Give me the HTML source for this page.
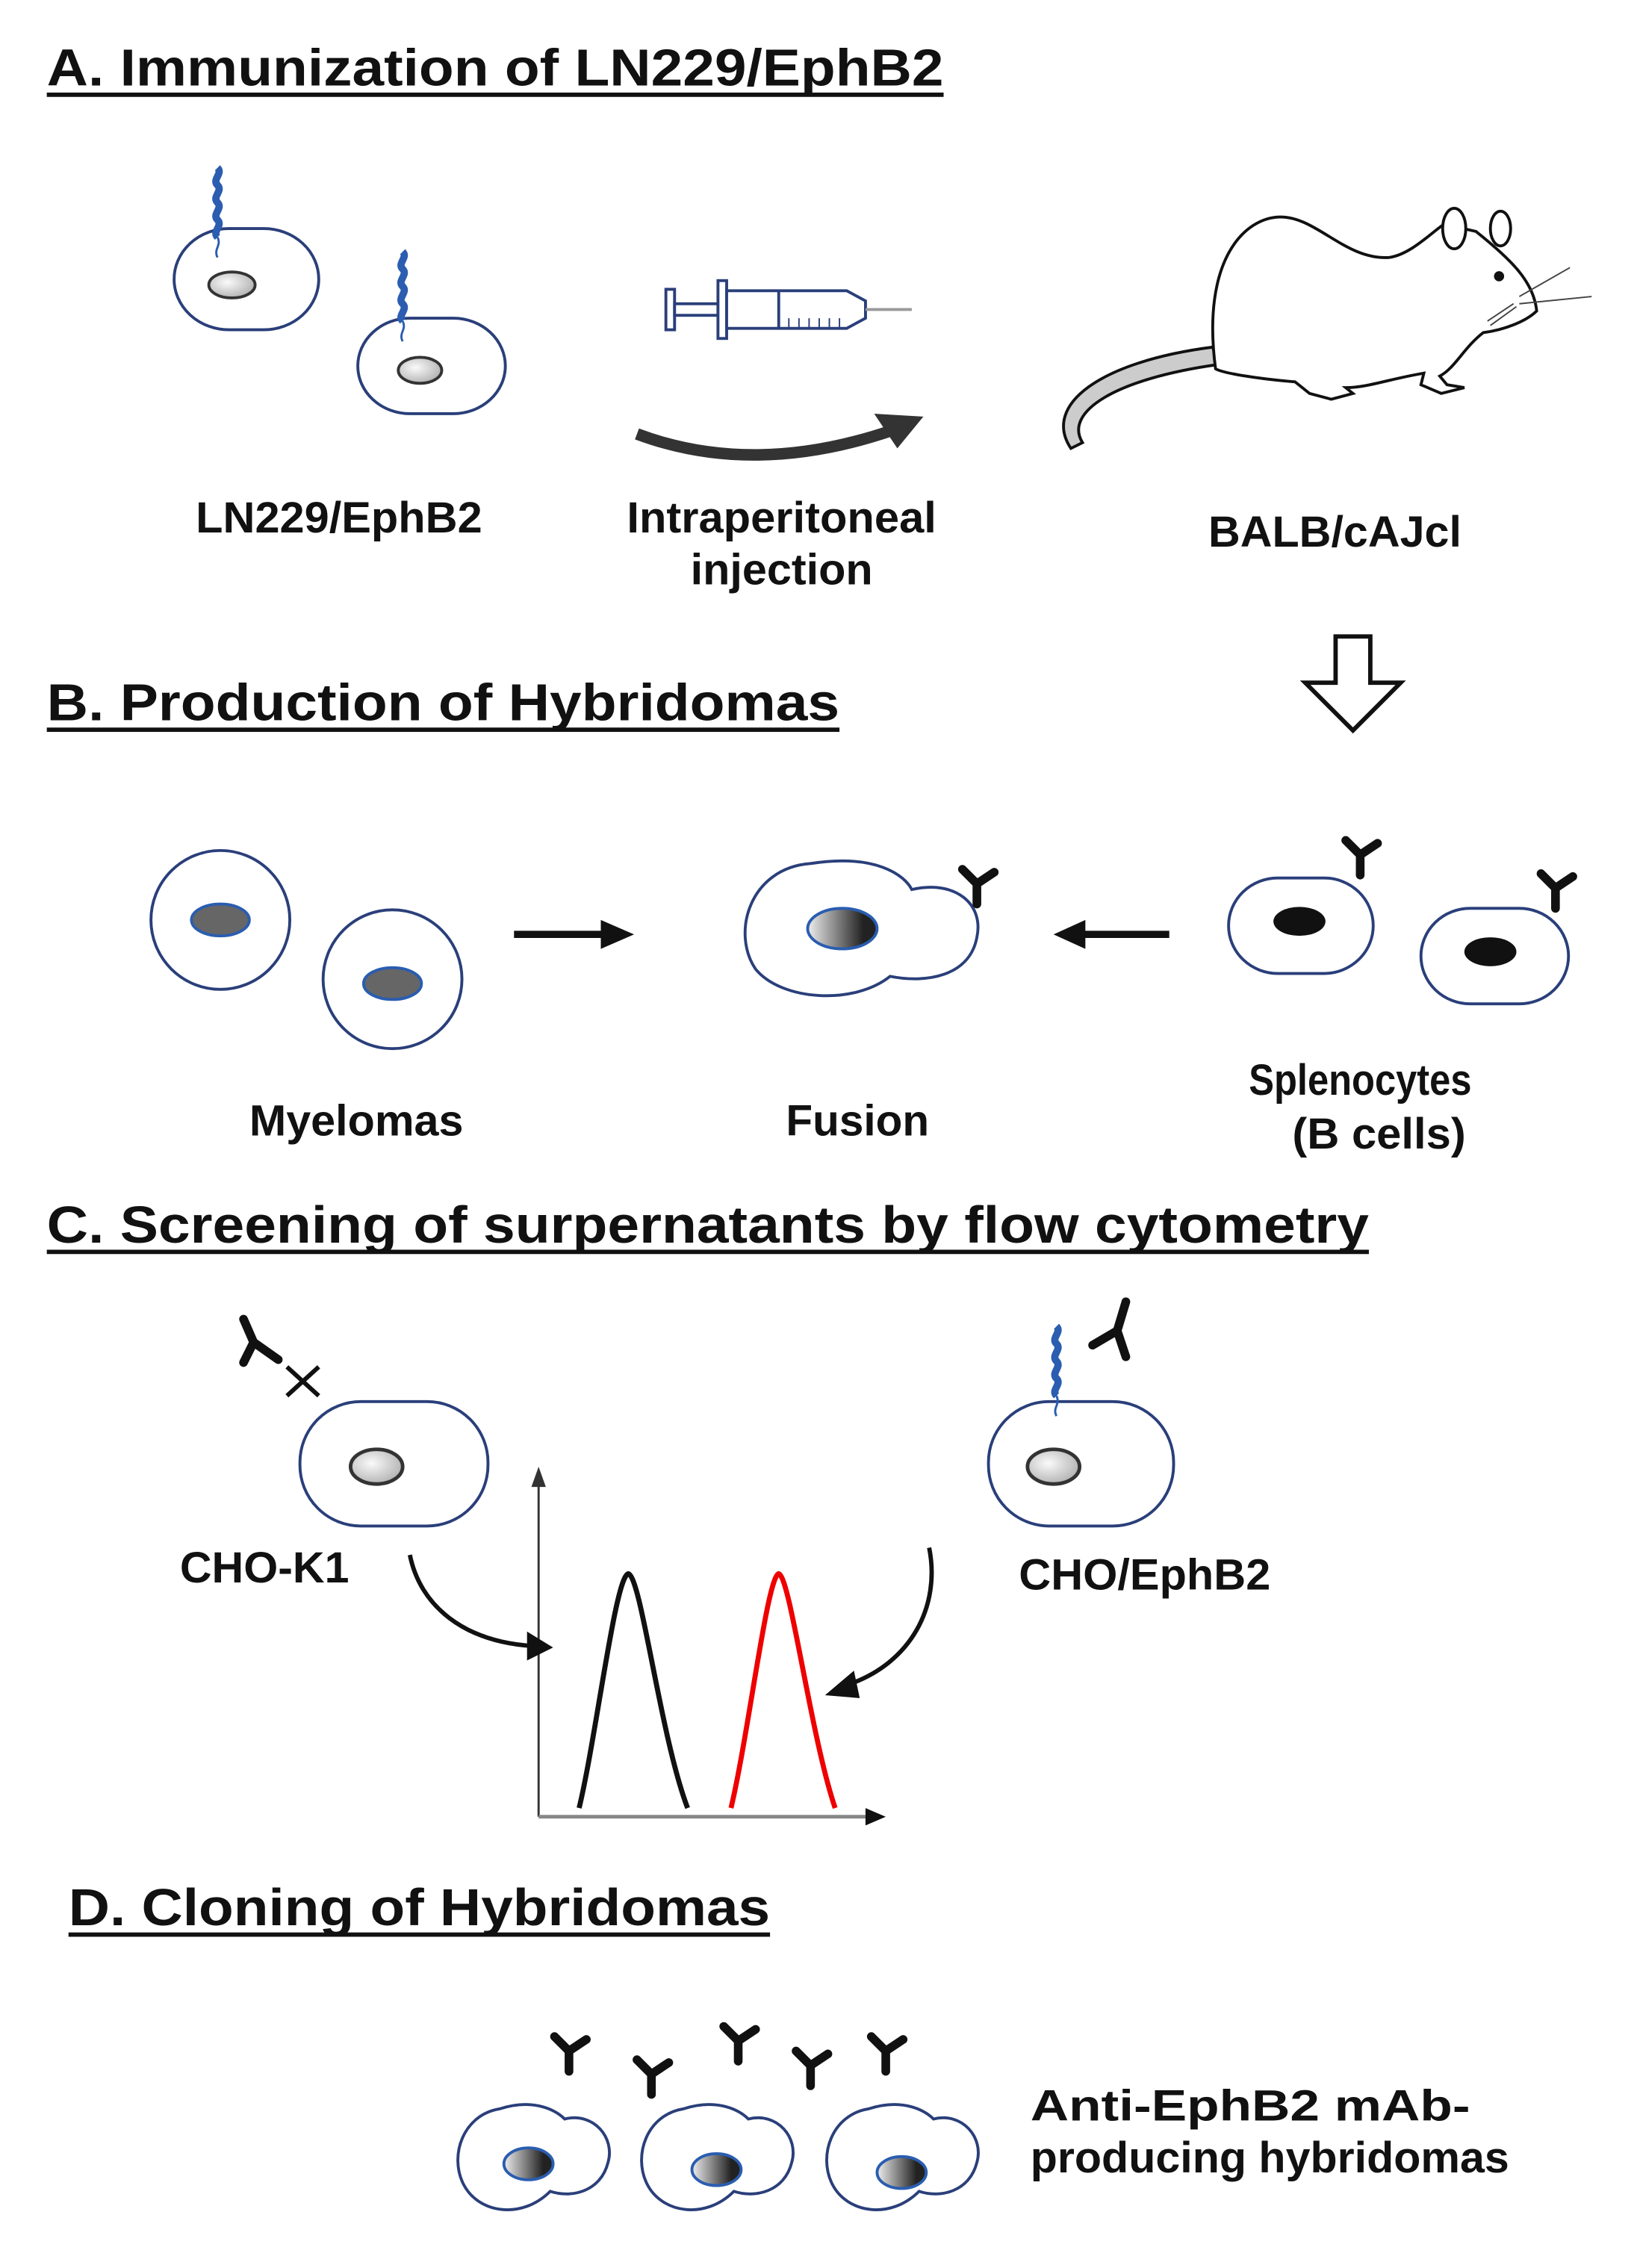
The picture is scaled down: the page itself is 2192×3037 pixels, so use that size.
<!DOCTYPE html>
<html><head><meta charset="utf-8"><style>
html,body{margin:0;padding:0;background:#fff;}
svg{display:block;}
text{font-family:"Liberation Sans",Arial,sans-serif;font-weight:bold;fill:#111;}
</style></head><body>
<svg width="2192" height="3037" viewBox="0 0 1131 1568" xmlns="http://www.w3.org/2000/svg">
<defs>
<radialGradient id="gn" cx="0.4" cy="0.4" r="0.7"><stop offset="0" stop-color="#fafafa"/><stop offset="1" stop-color="#aaa"/></radialGradient>
<linearGradient id="gh" x1="0" x2="1"><stop offset="0" stop-color="#eee"/><stop offset="0.8" stop-color="#222"/></linearGradient>
<g id="ab"><path d="M0 0 L0 -14 M0 -14 L-10 -24 M0 -14 L12 -22" stroke="#111" stroke-width="6" fill="none" stroke-linecap="round"/></g>
<g id="rec"><path d="M0 0 C-4 -4 4 -8 0 -12 C-4 -16 4 -20 0 -24 C-4 -28 4 -32 0 -36 C-4 -40 4 -44 0 -48" stroke="#2b5db0" stroke-width="5" fill="none"/><path d="M0 0 C3 6 -3 8 0 14" stroke="#2b5db0" stroke-width="1.5" fill="none"/></g>
</defs>
<!-- A -->
<text x="32" y="59" font-size="36" textLength="620" lengthAdjust="spacingAndGlyphs">A. Immunization of LN229/EphB2</text>
<rect x="32" y="64" width="620" height="3" fill="#111"/>
<rect x="120" y="158" width="100" height="70" rx="38" fill="#fff" stroke="#2a3f7a" stroke-width="2"/>
<ellipse cx="160" cy="197" rx="16" ry="9" fill="url(#gn)" stroke="#333" stroke-width="2"/>
<use href="#rec" x="150" y="164"/>
<rect x="247" y="220" width="102" height="66" rx="36" fill="#fff" stroke="#2a3f7a" stroke-width="2"/>
<ellipse cx="290" cy="256" rx="15" ry="9" fill="url(#gn)" stroke="#333" stroke-width="2"/>
<use href="#rec" x="278" y="222"/>
<g stroke="#2a3f7a" stroke-width="2" fill="#fff">
<rect x="460" y="200" width="6" height="28"/><rect x="466" y="210" width="30" height="8"/>
<rect x="496" y="194" width="6" height="40"/>
<path d="M502 201 H585 L598 208 V220 L585 227 H502 Z"/>
<line x1="538" y1="201" x2="538" y2="227"/>
<line x1="598" y1="214" x2="630" y2="214" stroke="#999"/>
</g>
<g stroke="#2a3f7a" stroke-width="1">
<line x1="545" y1="220" x2="545" y2="227"/><line x1="552" y1="220" x2="552" y2="227"/><line x1="559" y1="220" x2="559" y2="227"/><line x1="566" y1="220" x2="566" y2="227"/><line x1="573" y1="220" x2="573" y2="227"/><line x1="580" y1="220" x2="580" y2="227"/>
</g>
<path d="M440 300 Q520 330 615 298" stroke="#333" stroke-width="8" fill="none"/>
<path d="M604 286 L638 288 L620 310 Z" fill="#333"/>
<g fill="#fff" stroke="#111" stroke-width="2">
<path d="M838 240 C760 250 720 280 740 310 L748 306 C735 285 770 262 842 252 Z" fill="#ccc"/>
<path d="M840 255 C830 180 860 150 885 150 C910 150 930 180 960 178 C975 176 990 160 998 155 L1020 160 C1045 180 1060 195 1062 215 C1055 222 1040 228 1025 230 C1012 240 1005 255 995 260 L1000 266 L1012 268 L996 272 L982 266 L984 258 C960 262 945 268 930 268 L935 272 L920 276 L905 272 L895 264 C870 262 845 258 840 255 Z"/>
<ellipse cx="1005" cy="158" rx="8" ry="14"/><ellipse cx="1037" cy="158" rx="7" ry="12"/>
</g>
<circle cx="1036" cy="191" r="3.5" fill="#111"/>
<g stroke="#444" stroke-width="1" fill="none">
<path d="M1050 205 L1085 185"/><path d="M1050 210 L1100 205"/><path d="M1048 212 L1030 225"/><path d="M1046 210 L1028 222"/>
</g>
<text x="135" y="368" font-size="30" textLength="198" lengthAdjust="spacingAndGlyphs">LN229/EphB2</text>
<text x="433" y="368" font-size="30" textLength="214" lengthAdjust="spacingAndGlyphs">Intraperitoneal</text>
<text x="477" y="404" font-size="30" textLength="126" lengthAdjust="spacingAndGlyphs">injection</text>
<text x="835" y="378" font-size="30" textLength="175" lengthAdjust="spacingAndGlyphs">BALB/cAJcl</text>
<path d="M923 440 H947 V472 H968 L935 505 L902 472 H923 Z" fill="#fff" stroke="#111" stroke-width="3"/>
<!-- B -->
<text x="32" y="498" font-size="36" textLength="548" lengthAdjust="spacingAndGlyphs">B. Production of Hybridomas</text>
<rect x="32" y="503" width="548" height="3" fill="#111"/>
<circle cx="152" cy="636" r="48" fill="#fff" stroke="#2a3f7a" stroke-width="2"/>
<ellipse cx="152" cy="636" rx="20" ry="11" fill="#666" stroke="#2a5db0" stroke-width="2"/>
<circle cx="271" cy="677" r="48" fill="#fff" stroke="#2a3f7a" stroke-width="2"/>
<ellipse cx="271" cy="680" rx="20" ry="11" fill="#666" stroke="#2a5db0" stroke-width="2"/>
<line x1="355" y1="646" x2="420" y2="646" stroke="#111" stroke-width="5"/><path d="M415 636 L438 646 L415 656 Z" fill="#111"/>
<path d="M560 597 C605 590 625 605 630 615 C660 608 680 625 675 648 C670 675 640 680 615 675 C590 695 540 692 522 670 C505 645 518 600 560 597 Z" fill="#fff" stroke="#2a3f7a" stroke-width="2"/>
<ellipse cx="582" cy="642" rx="24" ry="14" fill="url(#gh)" stroke="#2a5db0" stroke-width="2"/>
<use href="#ab" x="675" y="625"/>
<line x1="745" y1="646" x2="808" y2="646" stroke="#111" stroke-width="5"/><path d="M750 636 L728 646 L750 656 Z" fill="#111"/>
<rect x="849" y="607" width="100" height="66" rx="34" fill="#fff" stroke="#2a3f7a" stroke-width="2"/>
<ellipse cx="898" cy="637" rx="18" ry="10" fill="#111"/>
<use href="#ab" x="940" y="605"/>
<rect x="982" y="628" width="102" height="66" rx="34" fill="#fff" stroke="#2a3f7a" stroke-width="2"/>
<ellipse cx="1030" cy="658" rx="18" ry="10" fill="#111"/>
<use href="#ab" x="1075" y="628"/>
<text x="172" y="785" font-size="30" textLength="148" lengthAdjust="spacingAndGlyphs">Myelomas</text>
<text x="543" y="785" font-size="30" textLength="99" lengthAdjust="spacingAndGlyphs">Fusion</text>
<text x="863" y="757" font-size="30" textLength="154" lengthAdjust="spacingAndGlyphs">Splenocytes</text>
<text x="893" y="794" font-size="30" textLength="120" lengthAdjust="spacingAndGlyphs">(B cells)</text>
<!-- C -->
<text x="32" y="859" font-size="36" textLength="914" lengthAdjust="spacingAndGlyphs">C. Screening of surpernatants by flow cytometry</text>
<rect x="32" y="864" width="914" height="3" fill="#111"/>
<path d="M168 912 L175 928 L192 940 M175 928 L168 942" stroke="#111" stroke-width="6" fill="none" stroke-linecap="round"/>
<path d="M198 945 L220 965 M220 945 L198 965" stroke="#111" stroke-width="3"/>
<rect x="207" y="969" width="130" height="86" rx="42" fill="#fff" stroke="#2a3f7a" stroke-width="2"/>
<ellipse cx="260" cy="1014" rx="18" ry="12" fill="url(#gn)" stroke="#333" stroke-width="2.5"/>
<rect x="683" y="969" width="128" height="86" rx="42" fill="#fff" stroke="#2a3f7a" stroke-width="2"/>
<ellipse cx="728" cy="1014" rx="18" ry="12" fill="url(#gn)" stroke="#333" stroke-width="2.5"/>
<use href="#rec" x="730" y="965"/>
<path d="M778 900 L772 920 L755 930 M772 920 L778 938" stroke="#111" stroke-width="6" fill="none" stroke-linecap="round"/>
<text x="124" y="1094" font-size="30" textLength="117" lengthAdjust="spacingAndGlyphs">CHO-K1</text>
<text x="704" y="1099" font-size="30" textLength="174" lengthAdjust="spacingAndGlyphs">CHO/EphB2</text>
<line x1="372" y1="1256" x2="372" y2="1022" stroke="#333" stroke-width="1.5"/><path d="M367 1028 L372 1014 L377 1028 Z" fill="#333"/>
<line x1="372" y1="1256" x2="600" y2="1256" stroke="#888" stroke-width="2.5"/><path d="M598 1250 L612 1256 L598 1262 Z" fill="#111"/>
<path d="M400 1250 C412 1200 425 1090 434 1088 C443 1090 456 1200 475 1250" stroke="#111" stroke-width="3.5" fill="none"/>
<path d="M505 1250 C517 1200 530 1090 538 1088 C546 1090 560 1200 577 1250" stroke="#e00" stroke-width="3.5" fill="none"/>
<path d="M283 1075 C290 1110 320 1135 368 1138" stroke="#111" stroke-width="3" fill="none"/><path d="M364 1128 L382 1139 L364 1148 Z" fill="#111"/>
<path d="M642 1070 C650 1110 630 1150 585 1165" stroke="#111" stroke-width="3" fill="none"/><path d="M590 1155 L570 1172 L594 1174 Z" fill="#111"/>
<!-- D -->
<text x="47" y="1331" font-size="36" textLength="485" lengthAdjust="spacingAndGlyphs">D. Cloning of Hybridomas</text>
<rect x="47" y="1336" width="485" height="3" fill="#111"/>
<g fill="#fff" stroke="#2a3f7a" stroke-width="2">
<path d="M345 1458 C370 1450 385 1460 390 1465 C410 1460 425 1478 420 1495 C415 1515 395 1520 380 1515 C360 1535 330 1530 320 1510 C310 1490 320 1462 345 1458 Z"/>
<path d="M472 1458 C497 1450 512 1460 517 1465 C537 1460 552 1478 547 1495 C542 1515 522 1520 507 1515 C487 1535 457 1530 447 1510 C437 1490 447 1462 472 1458 Z"/>
<path d="M600 1458 C625 1450 640 1460 645 1465 C665 1460 680 1478 675 1495 C670 1515 650 1520 635 1515 C615 1535 585 1530 575 1510 C565 1490 575 1462 600 1458 Z"/>
</g>
<ellipse cx="365" cy="1496" rx="17" ry="11" fill="url(#gh)" stroke="#2a5db0" stroke-width="2"/>
<ellipse cx="495" cy="1500" rx="17" ry="11" fill="url(#gh)" stroke="#2a5db0" stroke-width="2"/>
<ellipse cx="623" cy="1502" rx="17" ry="11" fill="url(#gh)" stroke="#2a5db0" stroke-width="2"/>
<use href="#ab" x="393" y="1432"/>
<use href="#ab" x="450" y="1448"/>
<use href="#ab" x="510" y="1425"/>
<use href="#ab" x="560" y="1442"/>
<use href="#ab" x="612" y="1432"/>
<text x="712" y="1466" font-size="30" textLength="304" lengthAdjust="spacingAndGlyphs">Anti-EphB2 mAb-</text>
<text x="712" y="1502" font-size="30" textLength="331" lengthAdjust="spacingAndGlyphs">producing hybridomas</text>
</svg>
</body></html>
